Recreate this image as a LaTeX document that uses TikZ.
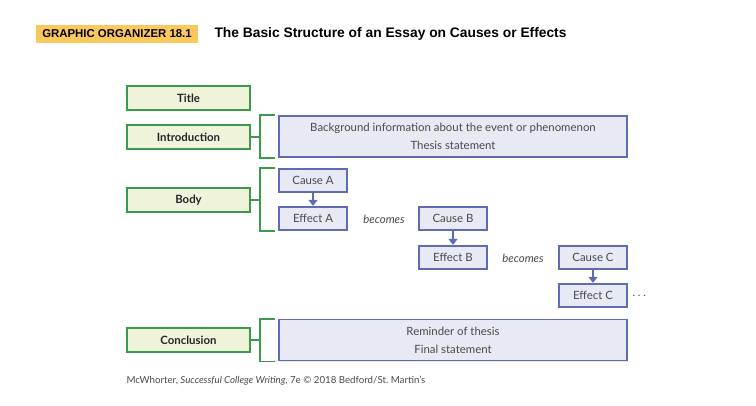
\documentclass[tikz,border=0pt]{standalone}
\usepackage{fontspec}
\setmainfont{Liberation Sans}
\newfontfamily\boxfont{Lato}
\usetikzlibrary{arrows.meta}
\usetikzlibrary{shadows}

\definecolor{partgreen}{HTML}{3C9A4C}
\definecolor{partfill}{HTML}{EEF3DA}
\definecolor{itemblue}{HTML}{5E6DB3}
\definecolor{itemfill}{HTML}{E7EAF5}
\definecolor{headorange}{HTML}{FBC85C}
\definecolor{txtgray}{HTML}{4A4A4A}

\begin{document}
\begin{tikzpicture}[x=1pt, y=-1pt, node distance=38pt, >={Triangle[width=9pt,length=6pt]},
    part/.style={rectangle, draw=partgreen, fill=partfill, line width=1.8pt, minimum width=123pt, minimum height=24pt, inner sep=0pt, font=\boxfont\bfseries\fontsize{11.4}{13}\selectfont, text=black!85, drop shadow={opacity=0.2, shadow xshift=1pt, shadow yshift=-1pt}},
    item/.style={rectangle, draw=itemblue, fill=itemfill, line width=1.8pt, minimum width=68pt, minimum height=23.5pt, inner sep=0pt, font=\boxfont\fontsize{11.4}{13}\selectfont, text=txtgray, drop shadow={opacity=0.2, shadow xshift=1pt, shadow yshift=-1pt}},
    wide/.style={item, minimum width=348pt, minimum height=41pt, align=center},
    bracket/.style={draw=partgreen, line width=1.8pt},
    link/.style={draw=itemblue, line width=2pt, ->},
    becomes/.style={font=\boxfont\itshape\fontsize{11.4}{13}\selectfont, text=txtgray}]
  \useasboundingbox (0,0) rectangle (756,405);

  % Naglowek
  \node (tag) [fill=headorange, minimum width=162pt, minimum height=18pt, font=\bfseries\fontsize{11.4}{13}\selectfont] at (117,34) {GRAPHIC ORGANIZER 18.1};
  \node (heading) [anchor=west, font=\bfseries\fontsize{13.8}{16}\selectfont] at (211,34) {The Basic Structure of an Essay on Causes or Effects};

  % Czesci eseju
  \node (title) [part] at (188.5,98) {Title};
  \node (intro) [part] at (188.5,137) {Introduction};
  \node (body) [part] at (188.5,200) {Body};
  \node (concl) [part] at (188.5,340) {Conclusion};

  % Zawartosc
  \node (introtxt) [wide] at (453,136.5) {Background information about the event or phenomenon\\[5pt]Thesis statement};
  \node (causeA) [item] at (313,180.5) {Cause A};
  \node (effectA) [item, below of=causeA] {Effect A};
  \node (causeB) [item, right of=effectA, xshift=102pt] {Cause B};
  \node (effectB) [item, below of=causeB, yshift=-1pt] {Effect B};
  \node (causeC) [item, right of=effectB, xshift=102pt] {Cause C};
  \node (effectC) [item, below of=causeC] {Effect C};
  \node (becomes1) [becomes] at (384,219) {becomes};
  \node (becomes2) [becomes] at (523,258) {becomes};
  \node (dots) [anchor=west, font=\boxfont\fontsize{11}{13}\selectfont, text=txtgray] at (629,296) {.~.~.};
  \node (concltxt) [wide] at (453,340) {Reminder of thesis\\[5pt]Final statement};

  % Nawiasy
  \draw[bracket] ([xshift=-3pt]introtxt.north west) -| ([xshift=-18pt]introtxt.south west) -- ([xshift=-3pt]introtxt.south west);
  \draw[bracket] (intro.east) -- ([xshift=-18pt]intro.east -| introtxt.west);
  \draw[bracket] ([xshift=-3pt]causeA.north west) -| ([xshift=-18pt]effectA.south west) -- ([xshift=-3pt]effectA.south west);
  \draw[bracket] (body.east) -- ([xshift=-18pt]body.east -| causeA.west);
  \draw[bracket] ([xshift=-3pt]concltxt.north west) -| ([xshift=-18pt]concltxt.south west) -- ([xshift=-3pt]concltxt.south west);
  \draw[bracket] (concl.east) -- ([xshift=-18pt]concl.east -| concltxt.west);

  % Strzalki
  \draw[link] (causeA) -- (effectA);
  \draw[link] (causeB) -- (effectB);
  \draw[link] (causeC) -- (effectC);

  % Zrodlo
  \node (credit) [anchor=west, font=\boxfont\fontsize{9.7}{11}\selectfont, text=txtgray] at (123,381) {McWhorter, \textit{Successful College Writing}, 7e \textcopyright{} 2018 Bedford/St.~Martin’s};
\end{tikzpicture}
\end{document}
